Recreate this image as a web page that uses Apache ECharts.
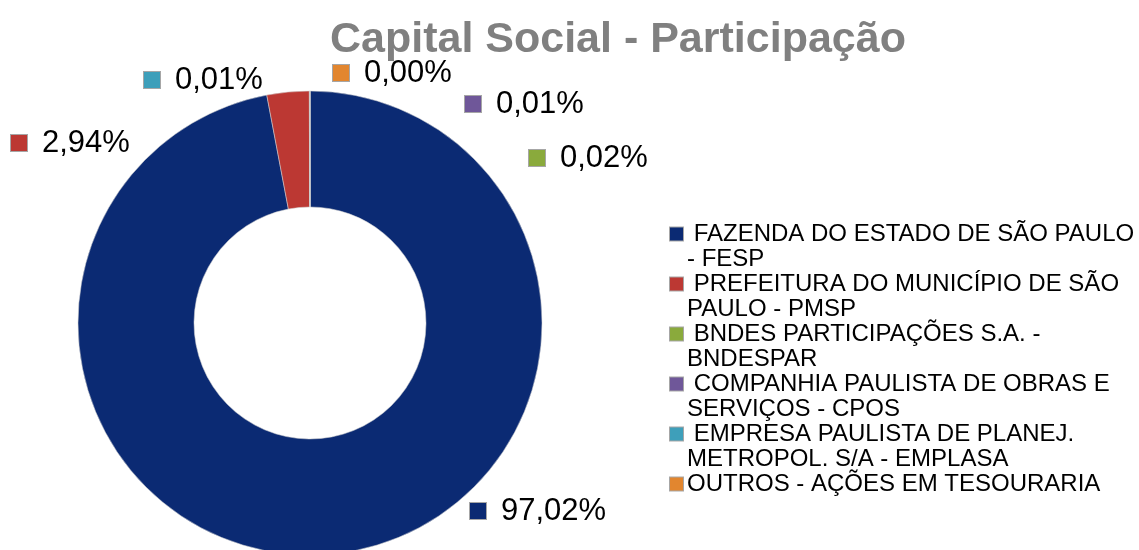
<!DOCTYPE html>
<html>
<head>
<meta charset="utf-8">
<title>Capital Social - Participação</title>
<script src="https://cdn.jsdelivr.net/npm/echarts@6/dist/echarts.min.js"></script>
<style>
    html, body{
        margin: 0;
        padding: 0;
        background: #fff;
    }
    #chart{
        width: 1139px;
        height: 550px;
    }
</style>
</head>
<body>
<div id="chart"></div>
<script>
    // acionistas (primeira linha / segunda linha da legenda)
    var names = [
        'FAZENDA DO ESTADO DE SÃO PAULO - FESP',
        'PREFEITURA DO MUNICÍPIO DE SÃO PAULO - PMSP',
        'BNDES PARTICIPAÇÕES S.A. - BNDESPAR',
        'COMPANHIA PAULISTA DE OBRAS E SERVIÇOS - CPOS',
        'EMPRESA PAULISTA DE PLANEJ. METROPOL. S/A - EMPLASA',
        'OUTROS - AÇÕES EM TESOURARIA'
    ];
    var legendLines = [
        ['FAZENDA DO ESTADO DE SÃO PAULO', '- FESP'],
        ['PREFEITURA DO MUNICÍPIO DE SÃO', 'PAULO - PMSP'],
        ['BNDES PARTICIPAÇÕES S.A. -', 'BNDESPAR'],
        ['COMPANHIA PAULISTA DE OBRAS E', 'SERVIÇOS - CPOS'],
        ['EMPRESA PAULISTA DE PLANEJ.', 'METROPOL. S/A - EMPLASA'],
        ['OUTROS - AÇÕES EM TESOURARIA']
    ];
    // participação em %
    var values = [97.02, 2.94, 0.02, 0.01, 0.01, 0.003];
    var colors = ['#0B2A73', '#BC3833', '#8AAA3C', '#6F5799', '#3E9FBA', '#E2862F'];

    // posição dos rótulos (canto esquerdo do ícone, meio do texto)
    var labelPos = [[470, 511], [11, 143], [529, 158], [465, 104], [144, 80], [333, 73]];

    var font = 'Liberation Sans, Arial, sans-serif';

    var labelRich = { t: { fontSize: 31, color: '#000', fontFamily: font, padding: [0, 0, 0, 15] } };
    var legendRich = {
        g: { width: 4 },
        sp: { width: 17 },
        n: { fontSize: 24, color: '#000', fontFamily: font, lineHeight: 25 },
        f: { fontSize: 24, color: '#000', fontFamily: font, lineHeight: 25 }
    };
    colors.forEach(function (c, i) {
        labelRich['i' + i] = { width: 16, height: 16, backgroundColor: c, borderColor: 'rgba(0,0,0,0.35)', borderWidth: 1 };
        legendRich['b' + i] = { width: 13, height: 13, backgroundColor: c, borderColor: 'rgba(0,0,0,0.35)', borderWidth: 1 };
    });

    var chart = echarts.init(document.getElementById('chart'));
    var option = {
        backgroundColor: '#fff',
        color: colors,
        animation: false,
        title: {
            text: 'Capital Social - Participação',
            left: 330,
            top: 19,
            padding: 0,
            textStyle: {
                color: '#808080',
                fontSize: 43,
                fontWeight: 'bold',
                fontFamily: font
            }
        },
        legend: {
            orient: 'vertical',
            left: 664,
            top: 222,
            padding: 0,
            itemGap: 1,
            itemWidth: 0,
            itemHeight: 0,
            selectedMode: false,
            data: names,
            textStyle: { rich: legendRich },
            formatter: function (name) {
                var i = names.indexOf(name);
                var l = legendLines[i];
                if (l.length === 1) {
                    return '{b' + i + '|}{g|}{f|' + l[0] + '}';
                }
                return '{b' + i + '|}{g|}{n| ' + l[0] + '}\n{sp|}{n|' + l[1] + '}';
            }
        },
        series: [
            {
                name: 'Capital Social',
                type: 'pie',
                center: [310, 323],
                radius: [116, 232],
                startAngle: 90,
                clockwise: true,
                avoidLabelOverlap: false,
                minAngle: 0,
                itemStyle: {
                    borderColor: 'rgba(210,210,210,0.9)',
                    borderWidth: 0.6
                },
                label: {
                    show: true,
                    position: 'outside',
                    formatter: function (p) {
                        return '{i' + p.dataIndex + '|}{t|' + p.value.toFixed(2).replace('.', ',') + '%}';
                    },
                    rich: labelRich
                },
                labelLine: { show: false },
                labelLayout: function (p) {
                    var pos = labelPos[p.dataIndex];
                    return { x: pos[0], y: pos[1], align: 'left', verticalAlign: 'middle' };
                },
                data: names.map(function (n, i) {
                    return { name: n, value: values[i] };
                })
            }
        ]
    };
    chart.setOption(option);
</script>
</body>
</html>
